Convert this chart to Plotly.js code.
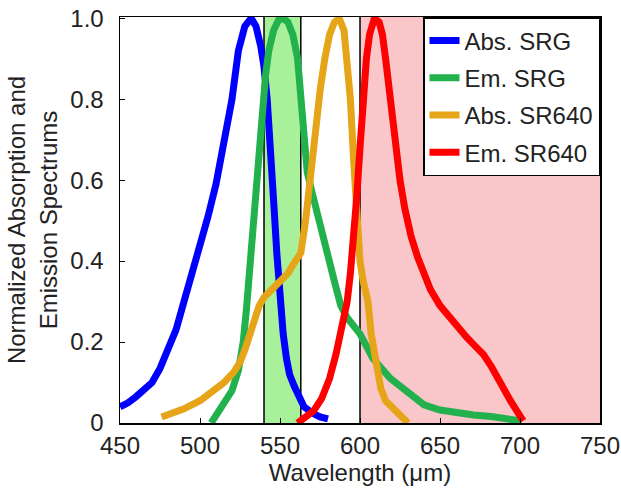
<!DOCTYPE html>
<html>
<head>
<meta charset="utf-8">
<script src="https://cdn.plot.ly/plotly-3.0.1.min.js"></script>
<style>html,body{margin:0;padding:0;background:#fff;}#chart{width:621px;height:492px;}</style>
</head>
<body>
<div id="chart"></div>
<script>
// Abs. SRG
const absSrgX = [450,455,460,465,470,475,480,485,490,495,500,505,510,515,520,524,528,532,535,538,540,542,544,546,548,550,552,554,556,559,562,565,570,575,580];
const absSrgY = [0.04,0.05,0.065,0.08,0.1,0.135,0.18,0.23,0.30,0.37,0.43,0.51,0.59,0.69,0.80,0.92,0.98,1.0,0.98,0.93,0.88,0.8,0.7,0.55,0.42,0.31,0.22,0.16,0.12,0.09,0.06,0.04,0.025,0.015,0.01];
// Em. SRG
const emSrgX = [507,510,515,520,524,527,529,531,533,535,537,539,541,543,546,549,552,555,558,561,563,565,567,570,573,576,580,584,588,592,600,608,619,630,640,650,660,671,682,692,698,701];
const emSrgY = [0.0,0.02,0.045,0.08,0.13,0.2,0.28,0.38,0.48,0.58,0.68,0.78,0.86,0.92,0.97,0.995,1.0,0.99,0.96,0.9,0.8,0.7,0.62,0.57,0.52,0.47,0.41,0.35,0.29,0.26,0.22,0.16,0.11,0.073,0.045,0.032,0.025,0.02,0.016,0.012,0.01,0.005];
// Abs. SR640
const absSr640X = [476,480,490,500,507,515,521,525,528,531,534,537,540,545,550,555,558,561,563,566,568,570,572,575,578,581,584,587,590,592,594,596,598,600,602,605,607,610,613,616,620,624,628,630];
const absSr640Y = [0.015,0.02,0.035,0.055,0.075,0.1,0.125,0.15,0.18,0.22,0.26,0.29,0.31,0.33,0.35,0.37,0.39,0.41,0.42,0.5,0.57,0.65,0.73,0.82,0.9,0.96,0.99,1.0,0.97,0.9,0.8,0.65,0.5,0.4,0.35,0.3,0.22,0.155,0.085,0.055,0.04,0.025,0.01,0.0];
// Em. SR640
const emSr640X = [561,565,571,576,581,585,588,590,592,594,596,598,600,602,604,606,609,612,614,616,618,620,622,625,628,632,636,640,644,650,656,661,667,672,677,682,686,690,694,698,702];
const emSr640Y = [0.0,0.01,0.03,0.06,0.11,0.17,0.22,0.26,0.3,0.37,0.45,0.56,0.68,0.8,0.9,0.96,1.0,0.99,0.96,0.9,0.83,0.76,0.69,0.6,0.53,0.46,0.41,0.37,0.33,0.29,0.26,0.24,0.21,0.19,0.17,0.14,0.11,0.08,0.055,0.03,0.005];

const seriesNames = ['Abs. SRG','Em. SRG','Abs. SR640','Em. SR640'];
const seriesColors = ['#0000ff','#22b14c','#e6a418','#ff0000'];

// bands (filter windows)
const greenBand = [540, 563];
const redBand = [600, 750];

const xTicks = [450,500,550,600,650,700,750];
const yTicks = [0,0.2,0.4,0.6,0.8,1.0];
const yTickText = ['0','0.2','0.4','0.6','0.8','1.0'];

const xs = [absSrgX, emSrgX, absSr640X, emSr640X];
const ys = [absSrgY, emSrgY, absSr640Y, emSr640Y];

const traces = xs.map((x,i)=>({
  x: x, y: ys[i], type:'scatter', mode:'lines', name: seriesNames[i],
  legendgroup: 'g'+i,
  line:{color: seriesColors[i], width:7, shape:'linear'}
}));

const font = 'Liberation Sans, Arial, sans-serif';
const txt = '#222';
const layout = {
  width:621, height:492,
  margin:{l:120, r:21, t:17, b:69},
  paper_bgcolor:'#fff', plot_bgcolor:'#fff',
  font:{family:font, size:24, color:txt},
  showlegend:true,
  legend:{x:1, y:1, xanchor:'right', yanchor:'top', bgcolor:'#fff', bordercolor:'#000', borderwidth:1.5,
          font:{family:font, size:24, color:txt}, tracegroupgap:3, itemwidth:30},
  xaxis:{range:[450,750], tickvals:xTicks, ticks:'inside', ticklen:5, tickcolor:'#000',
         showline:true, linecolor:'#000', linewidth:1.5, mirror:true, showgrid:false, zeroline:false,
         ticklabelstandoff:1,
         tickfont:{family:font,size:24,color:txt},
         title:{text:'Wavelength (μm)', font:{family:font,size:24,color:txt}, standoff:4}},
  yaxis:{range:[0,1.003], tickvals:yTicks, ticktext:yTickText, ticks:'inside', ticklen:5, tickcolor:'#000',
         showline:true, linecolor:'#000', linewidth:1.5, mirror:true, showgrid:false, zeroline:false,
         ticklabelstandoff:10,
         tickfont:{family:font,size:24,color:txt},
         title:{text:'Normalized Absorption and<br>Emission Spectrums', font:{family:font,size:24,color:txt}, standoff:6}},
  shapes:[
    {type:'rect', xref:'x', yref:'paper', x0:greenBand[0], x1:greenBand[1], y0:0, y1:1, fillcolor:'#a9f09a', line:{width:0}, layer:'below'},
    {type:'rect', xref:'x', yref:'paper', x0:redBand[0], x1:redBand[1], y0:0, y1:1, fillcolor:'#f9c6ca', line:{width:0}, layer:'below'},
    {type:'line', xref:'x', yref:'paper', x0:greenBand[0], x1:greenBand[0], y0:0, y1:1, line:{color:'#000', width:1.5}, layer:'below'},
    {type:'line', xref:'x', yref:'paper', x0:greenBand[1], x1:greenBand[1], y0:0, y1:1, line:{color:'#000', width:1.5}, layer:'below'},
    {type:'line', xref:'x', yref:'paper', x0:redBand[0], x1:redBand[0], y0:0, y1:1, line:{color:'#000', width:1.5}, layer:'below'}
  ]
};
Plotly.newPlot('chart', traces, layout, {displayModeBar:false, staticPlot:true});
</script>
</body>
</html>
